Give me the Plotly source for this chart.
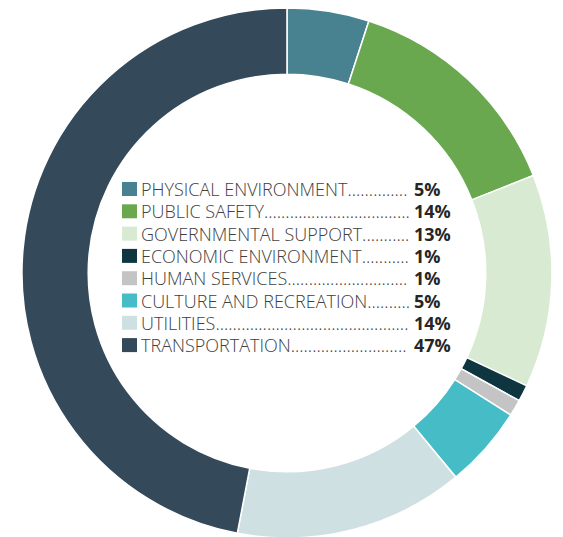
import plotly.graph_objects as go

categories = ["PHYSICAL ENVIRONMENT", "PUBLIC SAFETY", "GOVERNMENTAL SUPPORT",
              "ECONOMIC ENVIRONMENT", "HUMAN SERVICES", "CULTURE AND RECREATION",
              "UTILITIES", "TRANSPORTATION"]
values = [5, 14, 13, 1, 1, 5, 14, 47]
pct_labels = ["5%", "14%", "13%", "1%", "1%", "5%", "14%", "47%"]
colors = ["#48818f", "#69a84f", "#d9ead3", "#0f3640", "#c4c4c4",
          "#45bcc6", "#cfe0e3", "#34495a"]
dot_counts = [14, 34, 11, 11, 28, 10, 45, 27]

W, H = 563, 537
OFF = 8  # page body margin offset

fig = go.Figure(go.Pie(
    labels=categories, values=values, hole=0.75, sort=False,
    direction="clockwise", rotation=0,
    marker=dict(colors=colors, line=dict(color="white", width=1.5)),
    textinfo="none", hoverinfo="label+percent",
    domain=dict(x=[0.016, 0.975], y=[0.013, 1.0]),
    showlegend=False,
))

row_y0 = 189 - OFF
row_dy = 22.3
for i, (name, pct, col, nd) in enumerate(zip(categories, pct_labels, colors, dot_counts)):
    yc = row_y0 + i * row_dy
    yp = 1 - yc / H
    fig.add_shape(type="rect", xref="paper", yref="paper",
                  x0=(122 - OFF) / W, x1=(137 - OFF) / W,
                  y0=1 - (yc + 7) / H, y1=1 - (yc - 7) / H,
                  fillcolor=col, line=dict(width=0))
    fig.add_annotation(xref="paper", yref="paper", x=(139 - OFF) / W, y=yp,
                       xanchor="left", yanchor="middle", showarrow=False,
                       text=name + "." * nd,
                       font=dict(family="Open Sans", size=18, color="#404040", weight=300))
    fig.add_annotation(xref="paper", yref="paper", x=(412 - OFF) / W, y=yp,
                       xanchor="left", yanchor="middle", showarrow=False,
                       text="<b>" + pct + "</b>",
                       font=dict(family="Open Sans", size=18, color="#262626"))

fig.update_layout(width=W, height=H, margin=dict(l=0, r=0, t=0, b=0),
                  paper_bgcolor="white", plot_bgcolor="white")
fig.write_html("out.html")
